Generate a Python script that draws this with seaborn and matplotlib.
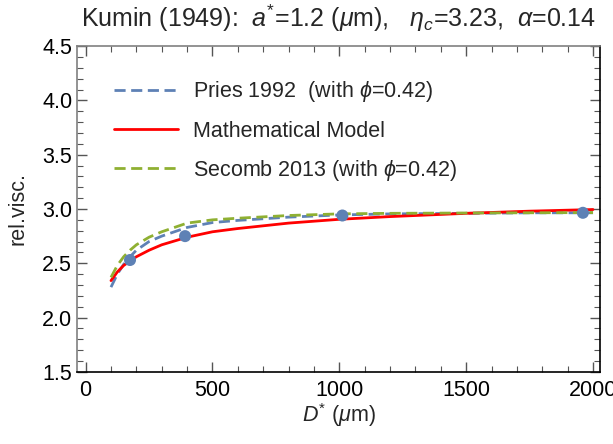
import numpy as np
import pandas as pd
import matplotlib.pyplot as plt
import seaborn as sns
from matplotlib.ticker import MultipleLocator

d_grid = [100, 125, 150, 175, 200, 250, 300, 400, 500, 600, 800, 1000, 1200, 1500, 1750, 2000]
pries = [2.28, 2.40, 2.49, 2.56, 2.62, 2.70, 2.75, 2.83, 2.875, 2.895, 2.925, 2.945, 2.955, 2.96, 2.965, 2.965]
model = [2.34, 2.42, 2.48, 2.52, 2.56, 2.62, 2.67, 2.74, 2.79, 2.82, 2.87, 2.905, 2.93, 2.96, 2.98, 2.995]
secomb = [2.37, 2.48, 2.56, 2.62, 2.67, 2.74, 2.79, 2.87, 2.90, 2.915, 2.94, 2.955, 2.96, 2.963, 2.965, 2.967]

# Kumin (1949) measurements
exp_d = [175, 392, 1012, 1960]
exp_visc = [2.53, 2.75, 2.94, 2.965]

lab_pries = r'Pries 1992  (with $\phi$=0.42)'
lab_model = 'Mathematical Model'
lab_secomb = r'Secomb 2013 (with $\phi$=0.42)'

df = pd.concat([
    pd.DataFrame({'D': d_grid, 'visc': pries, 'curve': lab_pries}),
    pd.DataFrame({'D': d_grid, 'visc': model, 'curve': lab_model}),
    pd.DataFrame({'D': d_grid, 'visc': secomb, 'curve': lab_secomb}),
])
pts = pd.DataFrame({'D': exp_d, 'visc': exp_visc})

sns.set_style('ticks')
plt.rcParams['font.family'] = ['Liberation Sans', 'DejaVu Sans']
plt.rcParams['mathtext.fontset'] = 'custom'
plt.rcParams['mathtext.rm'] = 'Liberation Sans'
plt.rcParams['mathtext.it'] = 'Liberation Sans:italic'

blue = '#5E81B5'
red = '#FF0000'
green = '#8FB032'

fig = plt.figure(figsize=(6.13, 4.44), dpi=100)
ax = fig.add_axes([0.1256, 0.1626, 0.8534, 0.7334])

sns.lineplot(data=df, x='D', y='visc', hue='curve', style='curve',
             hue_order=[lab_pries, lab_model, lab_secomb],
             style_order=[lab_pries, lab_model, lab_secomb],
             palette={lab_pries: blue, lab_model: red, lab_secomb: green},
             dashes={lab_pries: (4, 2), lab_model: '', lab_secomb: (4, 2)},
             linewidth=2.0, ax=ax)
sns.scatterplot(data=pts, x='D', y='visc', color=blue, s=75, edgecolor='none',
                zorder=5, ax=ax, legend=False)

ax.set_xlim(-34, 2028)
ax.set_ylim(1.5, 4.5)
ax.xaxis.set_major_locator(MultipleLocator(500))
ax.xaxis.set_minor_locator(MultipleLocator(100))
ax.yaxis.set_major_locator(MultipleLocator(0.5))
ax.yaxis.set_minor_locator(MultipleLocator(0.1))
ax.yaxis.set_major_formatter(plt.FormatStrFormatter('%.1f'))
ax.tick_params(which='both', direction='in', top=True, right=True, labelsize=15.5,
               colors='#555555', labelcolor='black')
ax.tick_params(axis='x', pad=6)
ax.tick_params(which='major', length=7, width=1)
ax.tick_params(which='minor', length=4, width=0.8)

for side in ['left', 'top']:
    ax.spines[side].set_color('#808080')
for side in ['right', 'bottom']:
    ax.spines[side].set_color('black')
for s in ax.spines.values():
    s.set_linewidth(1.2)

ax.set_xlabel(r'$D^{*}$ ($\mu$m)', fontsize=15.5, labelpad=0)
ax.set_ylabel('rel.visc.', fontsize=15.5, labelpad=10)
ax.set_title(r'Kumin (1949):  $a^{*}$=1.2 ($\mu$m),   $\eta_c$=3.23,  $\alpha$=0.14',
             fontsize=18, pad=14)

ax.legend(frameon=False, loc='upper left', bbox_to_anchor=(0.07, 0.898),
          borderpad=0, borderaxespad=0, handlelength=3.0, handletextpad=0.7,
          labelspacing=0.75, fontsize=15.5)

fig.savefig('out.png', dpi=100)
